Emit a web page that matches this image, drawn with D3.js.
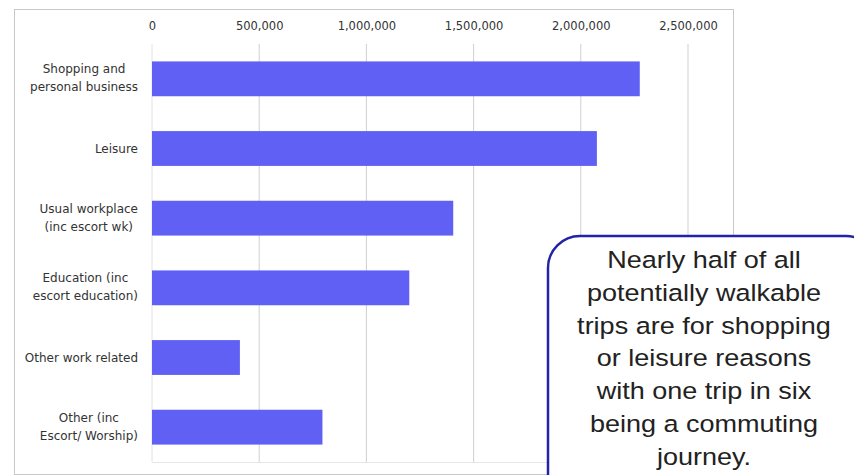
<!DOCTYPE html>
<html><head><meta charset="utf-8">
<script src="https://cdn.jsdelivr.net/npm/d3@7"></script>
<style>body{margin:0;background:#fff}svg{display:block}</style>
</head><body><svg id="c" width="854" height="475"></svg>
<script>
const categories = [
  ["Shopping and","personal business"],
  ["Leisure"],
  ["Usual workplace","(inc escort wk)"],
  ["Education (inc","escort education)"],
  ["Other work related"],
  ["Other (inc","Escort/ Worship)"]
];
const values = [2275000, 2075000, 1405000, 1200000, 410000, 795000];
const tickValues = [0, 500000, 1000000, 1500000, 2000000, 2500000];
const note = ["Nearly half of all","potentially walkable","trips are for shopping","or leisure reasons","with one trip in six","being a commuting","journey."];

const svg = d3.select("#c");
const x = d3.scaleLinear().domain([0, 2500000]).range([152, 688]);
const y = d3.scaleBand().domain(d3.range(categories.length)).range([44, 462]).paddingInner(0.5).paddingOuter(0.25);
const labelFont = "'DejaVu Sans', sans-serif";

// frame
svg.append("rect").attr("x",14.5).attr("y",9.5).attr("width",719).attr("height",465)
  .attr("fill","#fff").attr("stroke","#c8c8c8");

// gridlines
svg.append("g").selectAll("line").data(tickValues).join("line")
  .attr("x1",d=>x(d)).attr("x2",d=>x(d)).attr("y1",44).attr("y2",462)
  .attr("stroke",(d,i)=>i===0?"#e2e2e2":"#cfcfcf").attr("stroke-width",1);
svg.append("line").attr("x1",152).attr("x2",688).attr("y1",462.5).attr("y2",462.5).attr("stroke","#e6e6e6");

// top axis labels
const ax = svg.append("g").attr("transform","translate(0,30)")
  .call(d3.axisTop(x).tickValues(tickValues).tickFormat(d3.format(",")).tickSize(0).tickPadding(0));
ax.select(".domain").remove();
ax.selectAll("text").attr("font-family",labelFont).attr("font-size",11.5).attr("fill","#333");

// bars
svg.append("g").selectAll("rect").data(values).join("rect")
  .attr("x",x(0)).attr("y",(d,i)=>y(i)).attr("width",d=>x(d)-x(0)).attr("height",y.bandwidth())
  .attr("fill","#6060f4");

// category labels: block right-aligned at x=138, lines centred within block
const lab = svg.append("g").selectAll("text").data(categories).join("text")
  .attr("text-anchor","middle").attr("font-family",labelFont)
  .attr("font-size",12).attr("fill","#333");
lab.selectAll("tspan").data(d=>d.map((t,j)=>({t,j,n:d.length}))).join("tspan")
  .attr("x",0).attr("y",d=>d.n===1?4.5:(d.j===0?-5.5:12.5)).text(d=>d.t);
lab.each(function(d,i){
  let w=0; d3.select(this).selectAll("tspan").each(function(){w=Math.max(w,this.getComputedTextLength());});
  d3.select(this).attr("transform",`translate(${138-w/2},${y(i)+y.bandwidth()/2})`);
});

// annotation box
svg.append("rect").attr("x",548).attr("y",236).attr("width",330).attr("height",270).attr("rx",32)
  .attr("fill","#fff").attr("stroke","#2323a8").attr("stroke-width",2.5);
svg.append("g").attr("transform","translate(704,0) scale(1.15,1)").selectAll("text").data(note).join("text")
  .attr("x",0).attr("y",(d,i)=>268+i*32.8).attr("text-anchor","middle")
  .attr("font-family","'Liberation Sans', Arial, sans-serif").attr("font-size",23.5).attr("fill","#222")
  .text(d=>d);
</script></body></html>
